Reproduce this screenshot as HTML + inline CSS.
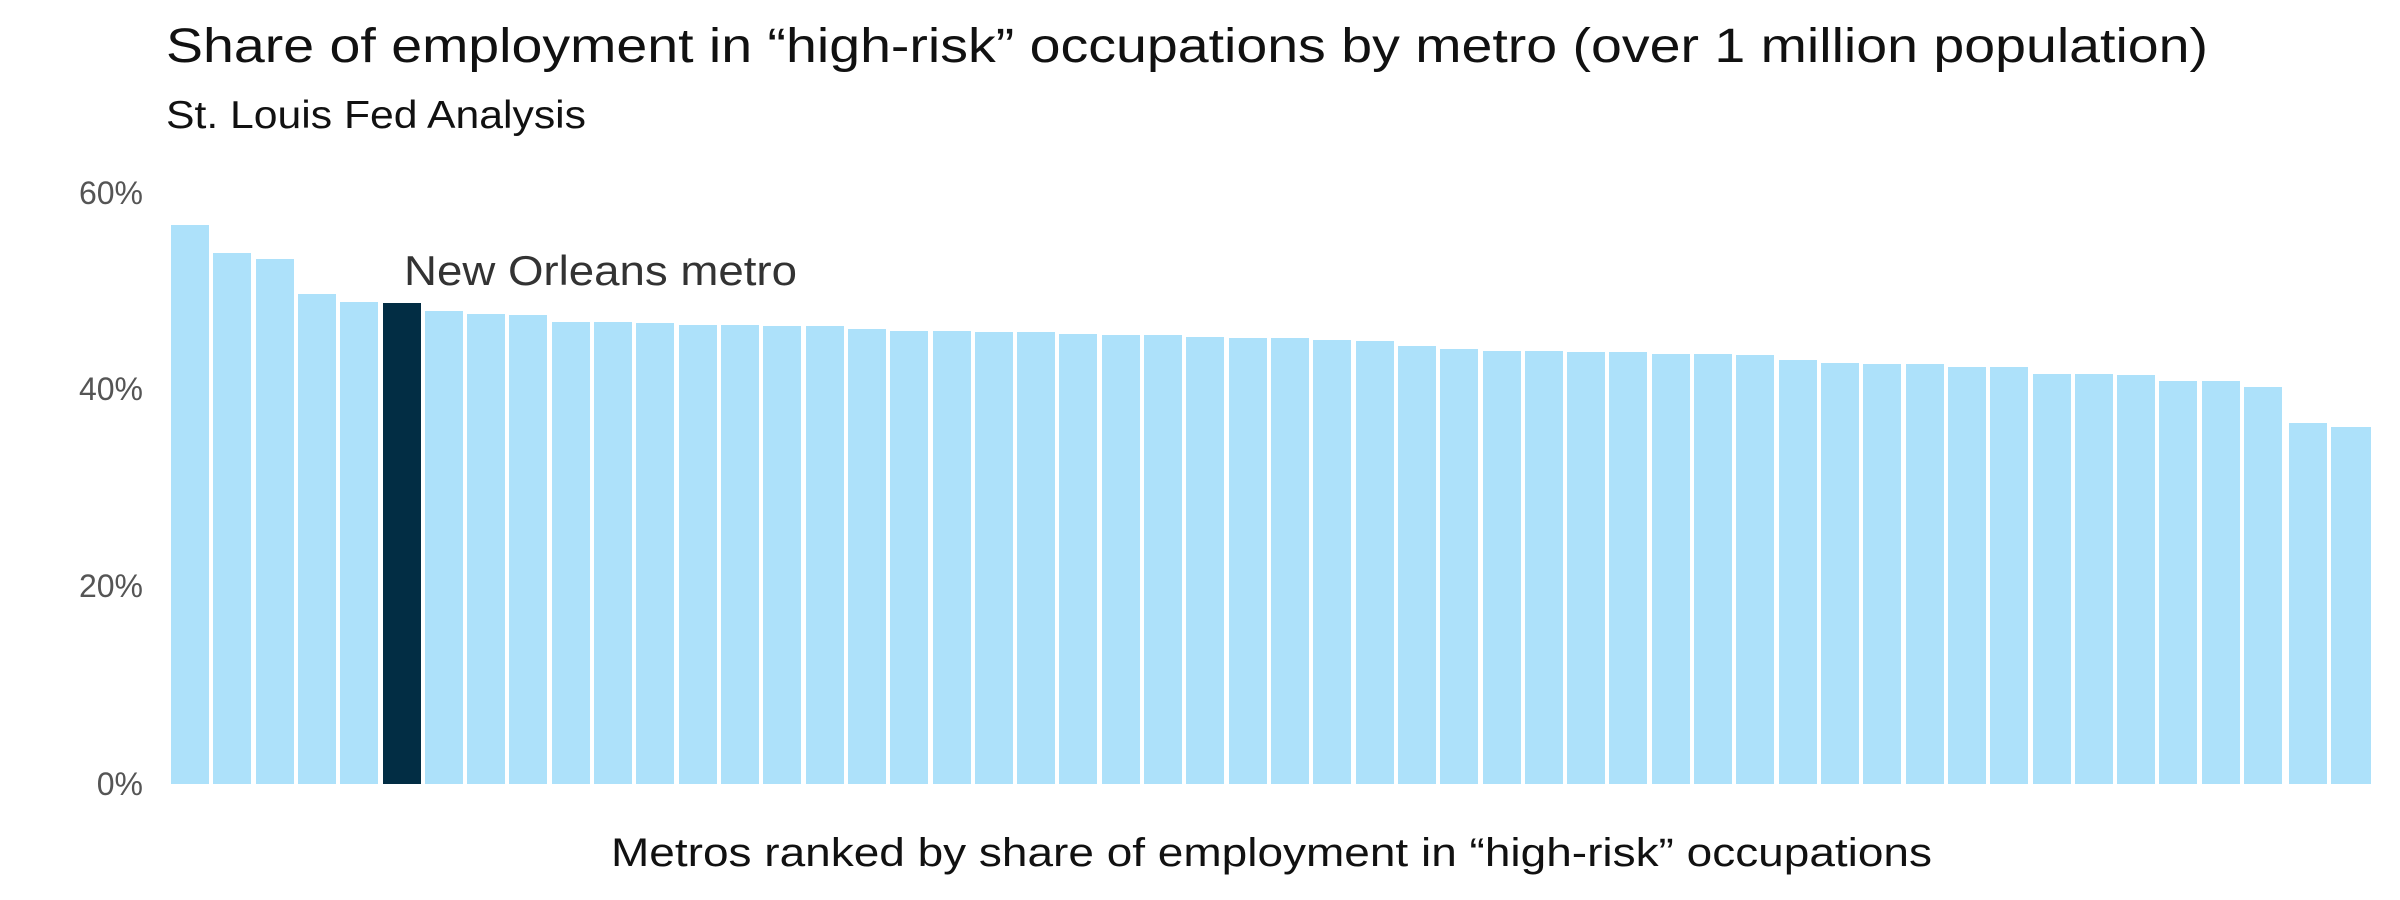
<!DOCTYPE html>
<html><head><meta charset="utf-8"><style>
html,body{margin:0;padding:0;background:#fff;}
svg{display:block;}
text{font-family:"Liberation Sans",sans-serif;}
</style></head><body>
<svg width="2400" height="900" viewBox="0 0 2400 900" xmlns="http://www.w3.org/2000/svg">
<text x="166" y="62" font-size="48" fill="#111" textLength="2042" lengthAdjust="spacingAndGlyphs">Share of employment in “high-risk” occupations by metro (over 1 million population)</text>
<text x="166" y="128" font-size="39" fill="#111" textLength="420" lengthAdjust="spacingAndGlyphs">St. Louis Fed Analysis</text>
<g font-size="32" fill="#555" text-anchor="end">
<text x="143" y="204">60%</text>
<text x="143" y="400">40%</text>
<text x="143" y="597">20%</text>
<text x="143" y="795">0%</text>
</g>
<g fill="#ade1fa">
<rect x="171" y="225" width="38" height="559"/>
<rect x="213" y="253" width="38" height="531"/>
<rect x="256" y="259" width="38" height="525"/>
<rect x="298" y="294" width="38" height="490"/>
<rect x="340" y="302" width="38" height="482"/>
<rect x="425" y="311" width="38" height="473"/>
<rect x="467" y="314" width="38" height="470"/>
<rect x="509" y="315" width="38" height="469"/>
<rect x="552" y="322" width="38" height="462"/>
<rect x="594" y="322" width="38" height="462"/>
<rect x="636" y="323" width="38" height="461"/>
<rect x="679" y="325" width="38" height="459"/>
<rect x="721" y="325" width="38" height="459"/>
<rect x="763" y="326" width="38" height="458"/>
<rect x="806" y="326" width="38" height="458"/>
<rect x="848" y="329" width="38" height="455"/>
<rect x="890" y="331" width="38" height="453"/>
<rect x="933" y="331" width="38" height="453"/>
<rect x="975" y="332" width="38" height="452"/>
<rect x="1017" y="332" width="38" height="452"/>
<rect x="1059" y="334" width="38" height="450"/>
<rect x="1102" y="335" width="38" height="449"/>
<rect x="1144" y="335" width="38" height="449"/>
<rect x="1186" y="337" width="38" height="447"/>
<rect x="1229" y="338" width="38" height="446"/>
<rect x="1271" y="338" width="38" height="446"/>
<rect x="1313" y="340" width="38" height="444"/>
<rect x="1356" y="341" width="38" height="443"/>
<rect x="1398" y="346" width="38" height="438"/>
<rect x="1440" y="349" width="38" height="435"/>
<rect x="1483" y="351" width="38" height="433"/>
<rect x="1525" y="351" width="38" height="433"/>
<rect x="1567" y="352" width="38" height="432"/>
<rect x="1609" y="352" width="38" height="432"/>
<rect x="1652" y="354" width="38" height="430"/>
<rect x="1694" y="354" width="38" height="430"/>
<rect x="1736" y="355" width="38" height="429"/>
<rect x="1779" y="360" width="38" height="424"/>
<rect x="1821" y="363" width="38" height="421"/>
<rect x="1863" y="364" width="38" height="420"/>
<rect x="1906" y="364" width="38" height="420"/>
<rect x="1948" y="367" width="38" height="417"/>
<rect x="1990" y="367" width="38" height="417"/>
<rect x="2033" y="374" width="38" height="410"/>
<rect x="2075" y="374" width="38" height="410"/>
<rect x="2117" y="375" width="38" height="409"/>
<rect x="2159" y="381" width="38" height="403"/>
<rect x="2202" y="381" width="38" height="403"/>
<rect x="2244" y="387" width="38" height="397"/>
<rect x="2289" y="423" width="38" height="361"/>
<rect x="2331" y="427" width="40" height="357"/>
</g>
<rect x="383" y="303" width="38" height="481" fill="#022d44"/>
<text x="404" y="285" font-size="42" fill="#333" textLength="393" lengthAdjust="spacingAndGlyphs">New Orleans metro</text>
<text x="611" y="866" font-size="40" fill="#111" textLength="1321" lengthAdjust="spacingAndGlyphs">Metros ranked by share of employment in “high-risk” occupations</text>
</svg>
</body></html>
